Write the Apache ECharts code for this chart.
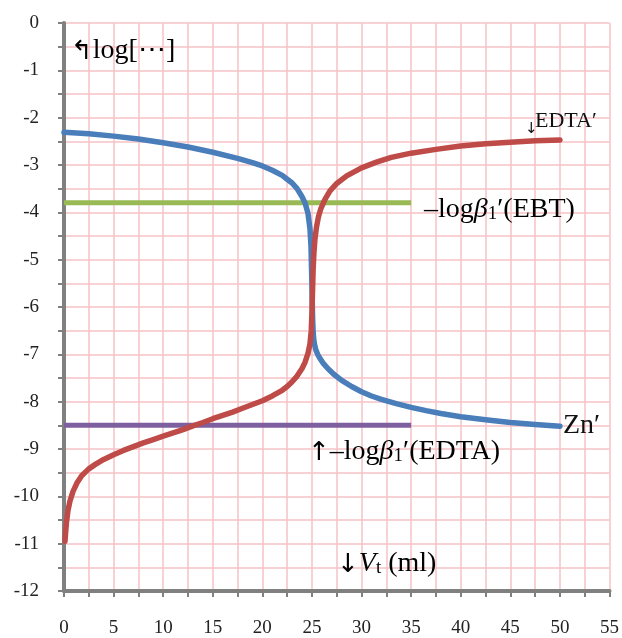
<!DOCTYPE html>
<html>
<head>
<meta charset="utf-8">
<script src="https://cdn.jsdelivr.net/npm/echarts@6/dist/echarts.min.js"></script>
<style>
html,body{margin:0;padding:0;background:#fff;}
#chart{width:622px;height:638px;}
</style>
</head>
<body>
<div id="chart"></div>
<script>
// Zn' curve (blue)
const znVolume = [0, 2.5, 5, 7.5, 10, 12.5, 15, 17.5, 19, 20, 21, 22, 22.5, 23, 23.5, 24, 24.3, 24.6, 24.8, 24.9, 24.97, 25.03, 25.07, 25.12, 25.18, 25.27, 25.4, 25.6, 25.85, 26.1, 26.6, 27.2, 28, 29, 30, 31, 32, 33.5, 35, 36.5, 38, 40, 42.5, 45, 47.5, 50];
const znLog    = [-2.31, -2.34, -2.39, -2.45, -2.53, -2.62, -2.73, -2.86, -2.95, -3.02, -3.11, -3.22, -3.30, -3.38, -3.50, -3.67, -3.80, -4.02, -4.35, -4.70, -5.30, -5.90, -6.25, -6.52, -6.68, -6.80, -6.91, -7.01, -7.10, -7.18, -7.30, -7.42, -7.55, -7.68, -7.79, -7.88, -7.95, -8.04, -8.12, -8.19, -8.25, -8.32, -8.38, -8.44, -8.48, -8.52];
// EDTA' curve (red)
const edtaVolume = [0.1, 0.15, 0.25, 0.4, 0.6, 0.9, 1.3, 1.8, 2.5, 3.2, 4, 5, 6, 7, 8, 9, 10, 11, 12, 13, 14, 15, 16, 17, 18, 19, 20, 21, 22, 22.5, 23, 23.5, 24, 24.3, 24.6, 24.8, 24.93, 25.0, 25.06, 25.12, 25.2, 25.3, 25.45, 25.65, 25.9, 26.3, 26.8, 27.5, 28.5, 30, 31.5, 33, 35, 37.5, 40, 42.5, 45, 47.5, 50];
const edtaLog    = [-10.95, -10.80, -10.55, -10.30, -10.10, -9.90, -9.72, -9.56, -9.42, -9.32, -9.22, -9.12, -9.03, -8.95, -8.87, -8.80, -8.73, -8.66, -8.59, -8.51, -8.44, -8.36, -8.29, -8.22, -8.14, -8.06, -7.98, -7.88, -7.76, -7.68, -7.58, -7.46, -7.30, -7.17, -6.98, -6.78, -6.50, -6.10, -5.65, -5.20, -4.85, -4.57, -4.32, -4.10, -3.92, -3.73, -3.55, -3.39, -3.23, -3.06, -2.94, -2.84, -2.75, -2.67, -2.60, -2.55, -2.52, -2.49, -2.47];
// horizontal reference lines
const ebtVolume = [0, 35];
const ebtLog = [-3.8, -3.8];
const edtaBetaVolume = [0, 35];
const edtaBetaLog = [-8.5, -8.5];
// axis ticks
const xTicks = [0, 5, 10, 15, 20, 25, 30, 35, 40, 45, 50, 55];
const yTicks = [0, -1, -2, -3, -4, -5, -6, -7, -8, -9, -10, -11, -12];

const zip = (a, b) => a.map((v, i) => [v, b[i]]);

const chart = echarts.init(document.getElementById('chart'), null, {renderer: 'canvas'});
const gridColor = '#f6c2c6';
const axisColor = '#808080';
const serif = '"Liberation Serif", "DejaVu Serif", serif';
const arrowFont = '"DejaVu Sans", sans-serif';
const txt = '#111';

const richBase = {
  n: {fontFamily: serif, fontSize: 28, lineHeight: 32, verticalAlign: 'bottom', color: txt},
  i: {fontFamily: serif, fontSize: 28, fontStyle: 'italic', lineHeight: 32, verticalAlign: 'bottom', color: txt},
  s: {fontFamily: serif, fontSize: 19, lineHeight: 22, verticalAlign: 'bottom', color: txt},
  a: {fontFamily: arrowFont, fontSize: 26, lineHeight: 32, verticalAlign: 'bottom', color: txt}
};

const option = {
  backgroundColor: '#ffffff',
  animation: false,
  grid: {left: 64, right: 12, top: 23, bottom: 44, containLabel: false},
  xAxis: {
    type: 'value',
    min: xTicks[0], max: xTicks[xTicks.length - 1], interval: 5,
    axisLine: {show: true, onZero: false, lineStyle: {color: axisColor, width: 4}},
    axisTick: {show: true, length: 6, lineStyle: {color: axisColor, width: 2}},
    minorTick: {show: true, splitNumber: 2, length: 6, lineStyle: {color: axisColor, width: 2}},
    splitLine: {show: true, lineStyle: {color: gridColor, width: 1.5}},
    minorSplitLine: {show: true, lineStyle: {color: gridColor, width: 1.5}},
    axisLabel: {margin: 28, color: '#222', fontFamily: serif, fontSize: 19}
  },
  yAxis: {
    type: 'value',
    min: yTicks[yTicks.length - 1], max: yTicks[0], interval: 1,
    axisLine: {show: true, onZero: false, lineStyle: {color: axisColor, width: 4}},
    axisTick: {show: true, length: 6, lineStyle: {color: axisColor, width: 2}},
    minorTick: {show: true, splitNumber: 2, length: 6, lineStyle: {color: axisColor, width: 2}},
    splitLine: {show: true, lineStyle: {color: gridColor, width: 1.5}},
    minorSplitLine: {show: true, lineStyle: {color: gridColor, width: 1.5}},
    axisLabel: {margin: 25, color: '#222', fontFamily: serif, fontSize: 19}
  },
  series: [
    {name: 'EBT', type: 'line', data: zip(ebtVolume, ebtLog), showSymbol: false,
     lineStyle: {color: '#98b954', width: 5}, z: 2},
    {name: 'EDTAbeta', type: 'line', data: zip(edtaBetaVolume, edtaBetaLog), showSymbol: false,
     lineStyle: {color: '#7e60a0', width: 5}, z: 2},
    {name: "Zn'", type: 'line', data: zip(znVolume, znLog), showSymbol: false,
     smooth: false, lineStyle: {color: '#4a7ebb', width: 5.5, join: 'round', cap: 'round'}, z: 3},
    {name: "EDTA'", type: 'line', data: zip(edtaVolume, edtaLog), showSymbol: false,
     smooth: false, lineStyle: {color: '#be4b48', width: 5.5, join: 'round', cap: 'round'}, z: 4}
  ],
  graphic: [
    {type: 'text', left: 71, top: 37, z: 10,
     style: {text: '{a|↰}{n|log[⋯]}', rich: richBase}},
    {type: 'text', left: 525, top: 122, z: 10,
     style: {text: '↓', font: '15px ' + arrowFont, fill: txt}},
    {type: 'text', left: 535, top: 110, z: 10,
     style: {text: 'EDTA′', font: '22px ' + serif, fill: txt}},
    {type: 'text', left: 424, top: 196, z: 10,
     style: {text: '{n|–log}{i|β}{s|1}{n|′(EBT)}', rich: richBase}},
    {type: 'text', left: 563, top: 412, z: 10,
     style: {text: 'Zn′', font: '28px ' + serif, fill: txt}},
    {type: 'text', left: 308, top: 438, z: 10,
     style: {text: '{a|↑}{n|–log}{i|β}{s|1}{n|′(EDTA)}', rich: richBase}},
    {type: 'text', left: 337, top: 550, z: 10,
     style: {text: '{a|↓}{i|V}{s|t}{n| (ml)}', rich: richBase}}
  ]
};
chart.setOption(option);
</script>
</body>
</html>
